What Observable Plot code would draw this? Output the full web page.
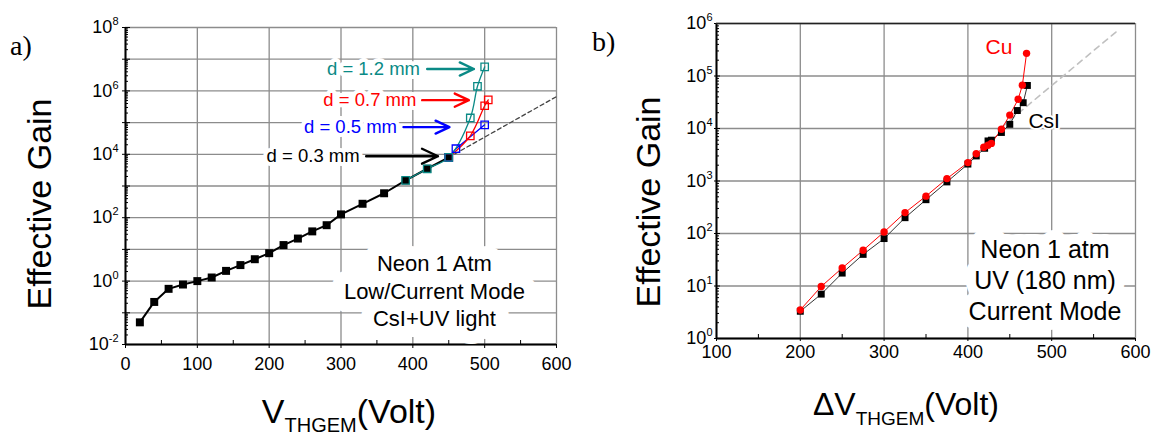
<!DOCTYPE html>
<html><head><meta charset="utf-8">
<script src="https://cdn.jsdelivr.net/npm/d3@7"></script>
<script src="https://cdn.jsdelivr.net/npm/@observablehq/plot@0.6"></script>
<style>
body{margin:0;background:#fff;}
#wrap{position:relative;width:1153px;height:437px;overflow:hidden;background:#fff;font-family:"Liberation Sans",Arial,sans-serif;color:#000;}
.panel{position:absolute;top:0;height:437px;}
.lbl{position:absolute;white-space:nowrap;line-height:1;}
.serif{font-family:"Liberation Serif","Times New Roman",serif;}
</style></head><body>
<div id="wrap">
  <div id="pa" class="panel" style="left:0;width:580px"></div>
  <div id="pb" class="panel" style="left:580px;width:573px"></div>
  <div class="lbl serif" style="left:10px;top:32px;font-size:28px">a)</div>
  <div class="lbl serif" style="left:592px;top:28px;font-size:28px">b)</div>
  <div class="lbl" style="left:39px;top:204px;font-size:34px;transform:translate(-50%,-50%) rotate(-90deg)">Effective Gain</div>
  <div class="lbl" style="left:648px;top:202px;font-size:34px;transform:translate(-50%,-50%) rotate(-90deg)">Effective Gain</div>
  <div class="lbl" style="left:349px;top:394px;font-size:34px;transform:translateX(-50%)">V<span style="font-size:20px;position:relative;top:9px">THGEM</span>(Volt)</div>
  <div class="lbl" style="left:906px;top:388px;font-size:32px;transform:translateX(-50%)">ΔV<span style="font-size:19px;position:relative;top:10px">THGEM</span>(Volt)</div>
</div>
<script>
// ---------- Panel a data ----------
const xDomainA = [0, 600];
const yDomainA = [1e-2, 1e8];
const xTicksA = [0, 100, 200, 300, 400, 500, 600];
const xMinorA = [50, 150, 250, 350, 450, 550];
const yLabelTicksA = [1e-2, 1e0, 1e2, 1e4, 1e6, 1e8];
const yDecadesA = [1e-2, 1e-1, 1e0, 1e1, 1e2, 1e3, 1e4, 1e5, 1e6, 1e7, 1e8];

const vA03 = [20, 40, 60, 80, 100, 120, 140, 160, 180, 200, 220, 240, 260, 280, 300, 330, 360, 390, 420, 450];
const gainA03 = [0.05, 0.22, 0.57, 0.78, 1.0, 1.3, 2.1, 3.2, 4.9, 7.6, 13.7, 22, 37, 58, 127, 275, 590, 1500, 3500, 8000];
const vA12 = [390, 420, 450, 480, 490, 500];
const gainA12 = [1500, 3500, 8000, 1.4e5, 1.4e6, 5.7e6];
const vA07 = [450, 480, 500, 505];
const gainA07 = [8000, 3.8e4, 3.4e5, 5.2e5];
const vA05 = [450, 460, 500];
const gainA05 = [8000, 1.5e4, 8.5e4];
const vFitA = [450, 600];
const gainFitA = [8000, 6.6e5];

const arrowLabels = ["d = 1.2 mm", "d = 0.7 mm", "d = 0.5 mm", "d = 0.3 mm"];
const arrowFromV = [420, 413, 387, 335];
const arrowToV = [485, 478, 451, 435];
const arrowGain = [4.9e6, 5.1e5, 7.2e4, 8.7e3];
const labelEndV = [410, 405, 378, 326];

const noteA = ["Neon 1 Atm", "Low/Current Mode", "CsI+UV light"];
const noteAV = 430;
const noteAGain = 0.53;

// ---------- Panel b data ----------
const xDomainB = [100, 600];
const yDomainB = [1, 1e6];
const xTicksB = [100, 200, 300, 400, 500, 600];
const xMinorB = [150, 250, 350, 450, 550];
const yDecadesB = [1, 1e1, 1e2, 1e3, 1e4, 1e5, 1e6];

const vCsI = [200, 225, 250, 275, 300, 325, 350, 375, 400, 410, 420, 424, 428, 440, 450, 459, 466, 471];
const gainCsI = [3.3, 7.0, 17.6, 40, 80, 200, 440, 960, 2100, 3000, 4200, 5800, 6000, 8400, 12000, 22000, 31000, 66000];
const vCu = [200, 225, 250, 275, 300, 325, 350, 375, 400, 410, 419, 424, 428, 440, 450, 460, 465, 470];
const gainCu = [3.5, 9.8, 22, 48, 107, 250, 515, 1110, 2240, 3300, 4400, 4800, 5200, 9700, 18000, 36000, 67000, 270000];
const vFitB = [440, 580];
const gainFitB = [10500, 7.6e5];

const seriesLabelsB = ["Cu", "CsI"];
const seriesLabelV = [437, 491];
const seriesLabelGain = [3.5e5, 1.4e4];

const noteB = ["Neon 1 atm", "UV (180 nm)", "Current Mode"];
const noteBV = 492;
const noteBGain = 13.7;

// ---------- helpers ----------
const rows = (xs, ys) => xs.map((x, i) => ({x, y: ys[i]}));
function logMinor(domain) {
  const out = [];
  const e0 = Math.round(Math.log10(domain[0])), e1 = Math.round(Math.log10(domain[1]));
  for (let e = e0; e < e1; e++) for (let k = 2; k <= 9; k++) out.push(k * Math.pow(10, e));
  return out;
}
const powFmt = d => "10^" + Math.round(Math.log10(d));
function supTicks(svg) {
  d3.select(svg).selectAll("text").each(function () {
    const m = /^10\^(-?\d+)$/.exec(this.textContent);
    if (!m) return;
    this.textContent = "10";
    d3.select(this).append("tspan").attr("dy", "-8").attr("font-size", "11px").text(m[1]);
  });
}
// a white box-like halo drawn beneath a text block, then the text itself on top
function haloText(txt, x, y, opts, haloWidth) {
  return [
    Plot.text([txt], {x: () => x, y: () => y, ...opts, fill: "white", stroke: "white", strokeWidth: haloWidth, strokeLinejoin: "round"}),
    Plot.text([txt], {x: () => x, y: () => y, ...opts})
  ];
}
const GRID = {stroke: "#8c8c8c", strokeWidth: 1.3, strokeOpacity: 1};
const FONT = "'Liberation Sans', Arial, sans-serif";
const TEAL = "#0a8a86", RED = "#ff0000", BLUE = "#0000ff";
const ARROW_COLORS = [TEAL, RED, BLUE, "#000000"];

// ---------- Panel a ----------
const WA = 580, HA = 437, mlA = 125, mrA = 24, mtA = 27, mbA = 93;
const PWA = WA - mlA - mrA, PHA = HA - mtA - mbA;
const plotA = Plot.plot({
  width: WA, height: HA,
  marginLeft: mlA, marginRight: mrA, marginTop: mtA, marginBottom: mbA,
  x: {domain: xDomainA},
  y: {type: "log", domain: yDomainA},
  style: {fontFamily: FONT, fontSize: "18px", background: "white", color: "black", overflow: "visible"},
  marks: [
    Plot.ruleX(xTicksA, GRID),
    Plot.ruleY(yDecadesA, GRID),
    Plot.ruleX(xMinorA, {stroke: "black", insetTop: PHA - 4}),
    Plot.ruleY(logMinor(yDomainA), {stroke: "black", insetRight: PWA - 3}),
    Plot.ruleY(yDecadesA, {stroke: "black", insetRight: PWA - 8, dx: -3}),
    Plot.ruleX([xDomainA[0]], {stroke: "black", strokeWidth: 2}),
    Plot.ruleY([yDomainA[0]], {stroke: "black", strokeWidth: 2}),
    Plot.axisX({ticks: xTicksA, tickSize: 4, tickPadding: 9, label: null}),
    Plot.axisY({ticks: yLabelTicksA, tickSize: 0, tickPadding: 7, tickFormat: powFmt, label: null}),
    ...haloText(noteA.join("\n"), noteAV, noteAGain,
      {fontSize: 22, lineHeight: 1.24, textAnchor: "middle", lineAnchor: "middle", fill: "black"}, 26),
    ...arrowLabels.flatMap((lab, i) => haloText(lab, labelEndV[i], arrowGain[i],
      {fontSize: 18.5, textAnchor: "end", fill: ARROW_COLORS[i]}, 8)),
    ...arrowLabels.map((lab, i) => Plot.arrow([i], {x1: d => arrowFromV[d], x2: d => arrowToV[d], y1: d => arrowGain[d], y2: d => arrowGain[d],
      stroke: ARROW_COLORS[i], strokeWidth: 2.4, headLength: 11, headAngle: 50})),
    Plot.line(rows(vFitA, gainFitA), {x: "x", y: "y", stroke: "#444", strokeWidth: 1.3, strokeDasharray: "4,3"}),
    Plot.line(rows(vA03, gainA03), {x: "x", y: "y", stroke: "black", strokeWidth: 2}),
    Plot.line(rows(vA05, gainA05), {x: "x", y: "y", stroke: BLUE, strokeWidth: 1.3}),
    Plot.line(rows(vA07, gainA07), {x: "x", y: "y", stroke: RED, strokeWidth: 1.3, curve: "catmull-rom"}),
    Plot.line(rows(vA12, gainA12), {x: "x", y: "y", stroke: TEAL, strokeWidth: 1.3, curve: "catmull-rom"}),
    Plot.dot(rows(vA03, gainA03), {x: "x", y: "y", symbol: "square", r: 4.5, fill: "black", stroke: "none"}),
    Plot.dot(rows(vA07, gainA07), {x: "x", y: "y", symbol: "square", r: 4.2, fill: "none", stroke: RED, strokeWidth: 1.3}),
    Plot.dot(rows(vA05, gainA05), {x: "x", y: "y", symbol: "square", r: 4.2, fill: "none", stroke: BLUE, strokeWidth: 1.3}),
    Plot.dot(rows(vA12, gainA12), {x: "x", y: "y", symbol: "square", r: 4.2, fill: "none", stroke: TEAL, strokeWidth: 1.3})
  ]
});
supTicks(plotA);
document.getElementById("pa").appendChild(plotA);

// ---------- Panel b ----------
const WB = 573, HB = 437, mlB = 136, mrB = 18, mtB = 23, mbB = 99;
const PWB = WB - mlB - mrB, PHB = HB - mtB - mbB;
const plotB = Plot.plot({
  width: WB, height: HB,
  marginLeft: mlB, marginRight: mrB, marginTop: mtB, marginBottom: mbB,
  x: {domain: xDomainB},
  y: {type: "log", domain: yDomainB},
  style: {fontFamily: FONT, fontSize: "18px", background: "white", color: "black", overflow: "visible"},
  marks: [
    Plot.ruleX(xTicksB, GRID),
    Plot.ruleY(yDecadesB, GRID),
    Plot.ruleX(xMinorB, {stroke: "black", insetTop: PHB - 4}),
    Plot.ruleY(logMinor(yDomainB), {stroke: "black", insetRight: PWB - 3}),
    Plot.ruleY(yDecadesB, {stroke: "black", insetRight: PWB - 6, dx: -2}),
    Plot.ruleX([xDomainB[0]], {stroke: "black", strokeWidth: 2}),
    Plot.ruleY([yDomainB[0]], {stroke: "black", strokeWidth: 2}),
    Plot.ruleY([yDomainB[1]], {stroke: "#222", strokeWidth: 1.6}),
    Plot.axisX({ticks: xTicksB, tickSize: 3, tickPadding: 4, label: null}),
    Plot.axisY({ticks: yDecadesB, tickSize: 0, tickPadding: 4, tickFormat: powFmt, label: null}),
    ...haloText(noteB.join("\n"), noteBV, noteBGain,
      {fontSize: 25, lineHeight: 1.24, textAnchor: "middle", lineAnchor: "middle", fill: "black"}, 20),
    Plot.line(rows(vFitB, gainFitB), {x: "x", y: "y", stroke: "#c0c0c0", strokeWidth: 1.6, strokeDasharray: "6,5"}),
    ...haloText(seriesLabelsB[1], seriesLabelV[1], seriesLabelGain[1], {fontSize: 21, fill: "black"}, 4),
    Plot.text([seriesLabelsB[0]], {x: () => seriesLabelV[0], y: () => seriesLabelGain[0], fontSize: 21, fill: RED}),
    Plot.line(rows(vCsI, gainCsI), {x: "x", y: "y", stroke: "#333", strokeWidth: 1}),
    Plot.line(rows(vCu, gainCu), {x: "x", y: "y", stroke: RED, strokeWidth: 1}),
    Plot.dot(rows(vCsI, gainCsI), {x: "x", y: "y", symbol: "square", r: 3.9, fill: "black", stroke: "none"}),
    Plot.dot(rows(vCu, gainCu), {x: "x", y: "y", r: 3.7, fill: RED, stroke: "none"})
  ]
});
supTicks(plotB);
document.getElementById("pb").appendChild(plotB);
</script>
</body></html>
